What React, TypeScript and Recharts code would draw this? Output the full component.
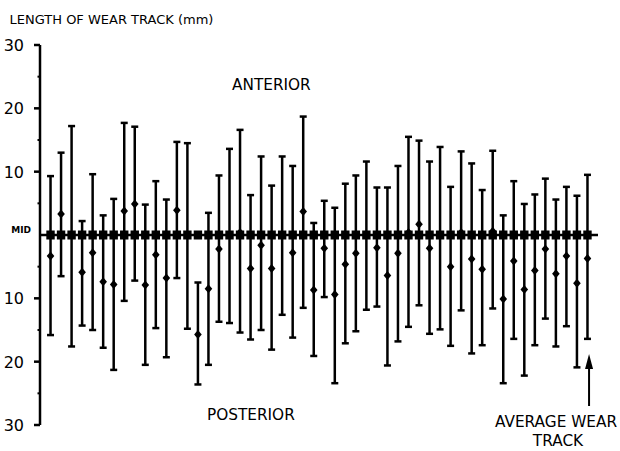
import React from "react";
import {
  ComposedChart,
  Scatter,
  ErrorBar,
  XAxis,
  YAxis,
  ReferenceLine,
} from "recharts";

// wear track per specimen, mm (anterior +, posterior -)
const trackTops = [
  9.3, 13.0, 17.2, 2.2, 9.6, 3.1, 5.7, 17.7, 17.1, 4.8,
  8.5, 5.6, 14.7, 14.5, -7.5, 3.5, 9.4, 13.6, 16.6, 6.3, 12.4,
  7.8, 12.4, 10.9, 18.7, 1.9, 5.4, 4.3, 8.1, 9.4, 11.6,
  7.5, 7.5, 10.9, 15.5, 14.9, 11.6, 13.9, 7.6, 13.2, 11.3,
  7.1, 13.3, 3.1, 8.5, 4.9, 6.4, 8.9, 5.6, 7.6, 6.2, 9.5,
];
const trackMids = [
  -3.3, 3.3, 0, -5.9, -2.8, -7.4, -7.8, 3.8, 4.9, -7.9,
  -3.1, -6.8, 3.9, 0, -15.7, -8.5, -2.2, 0, 0.4, -5.3, -1.6,
  -5.3, 0, -2.8, 3.7, -8.7, -2.1, -9.4, -4.6, -2.9, 0,
  -2.0, -6.4, -2.9, 0.4, 1.7, -2.1, 0, -5.0, 0.4, -3.8,
  -5.4, 0.6, -10.1, -4.1, -8.6, -5.6, -2.2, -6.1, -3.3, -7.6, -3.7,
];
const trackBottoms = [
  -15.8, -6.5, -17.6, -14.3, -15.0, -17.8, -21.3, -10.4, -7.2, -20.5,
  -14.7, -19.3, -6.8, -14.8, -23.6, -20.5, -13.7, -13.9, -15.4, -16.5, -15.0,
  -18.1, -12.6, -16.2, -11.5, -19.1, -9.8, -23.4, -17.1, -15.2, -11.8,
  -11.3, -20.6, -16.8, -14.5, -11.1, -15.6, -14.9, -17.5, -11.9, -18.7,
  -17.4, -11.6, -23.4, -16.4, -22.2, -17.4, -13.2, -17.6, -14.4, -20.9, -16.4,
];
const yTicks = [-30, -25, -20, -15, -10, -5, 0, 5, 10, 15, 20, 25, 30];

const FONT = "'DejaVu Sans', sans-serif";

const tracks = trackMids.map((m, i) => ({
  i,
  v: m,
  err: [m - trackBottoms[i], trackTops[i] - m],
}));
const centres = trackMids.map((_, i) => ({ i, v: 0 }));

const Diamond = (props: any) => {
  const { cx, cy } = props;
  if (cx == null || cy == null) return null;
  return (
    <polygon
      points={`${cx},${cy - 4.5} ${cx + 3.8},${cy} ${cx},${cy + 4.5} ${cx - 3.8},${cy}`}
      fill="#000"
    />
  );
};

const Square = (props: any) => {
  const { cx, cy } = props;
  if (cx == null || cy == null) return null;
  return <rect x={cx - 4.2} y={cy - 4.5} width={8.4} height={9} fill="#000" />;
};

const AxisTick = (props: any) => {
  const { x, y, payload } = props;
  const v = payload.value as number;
  const major = v % 10 === 0;
  if (!major) {
    return <line x1={x - 2.5} x2={x} y1={y} y2={y} stroke="#000" strokeWidth={2} />;
  }
  if (v === 0) {
    return (
      <text x={x - 9} y={y - 2.5} textAnchor="end" fontFamily={FONT} fontSize={9} fontWeight="bold" fill="#000">
        MID
      </text>
    );
  }
  return (
    <g>
      <line x1={x - 6} x2={x} y1={y} y2={y} stroke="#000" strokeWidth={2.5} />
      <text x={x - 16} y={y + 6} textAnchor="end" fontFamily={FONT} fontSize={16} fill="#000">
        {Math.abs(v)}
      </text>
    </g>
  );
};

const Arrow = (props: any) => {
  const { x1, y1, x2, y2 } = props;
  const top = Math.min(y1, y2);
  const bottom = Math.max(y1, y2);
  return (
    <g>
      <line x1={x1} x2={x2} y1={bottom} y2={top + 10} stroke="#000" strokeWidth={2} />
      <polygon points={`${x1},${top} ${x1 + 4},${top + 15} ${x1 - 4},${top + 15}`} fill="#000" />
    </g>
  );
};

export default function App() {
  return (
    <div style={{ position: "absolute", left: 0, top: 0, width: 620, height: 451, background: "#fff" }}>
      <ComposedChart
        width={620}
        height={451}
        margin={{ top: 45, right: 22, bottom: 26, left: 0 }}
      >
        <XAxis type="number" dataKey="i" domain={[-1, 52]} hide />
        <YAxis
          type="number"
          dataKey="v"
          domain={[-30, 30]}
          allowDataOverflow
          ticks={yTicks}
          interval={0}
          width={40}
          tickSize={0}
          tickMargin={0}
          tickLine={false}
          tick={<AxisTick />}
          axisLine={{ stroke: "#000", strokeWidth: 2.5 }}
        />
        <ReferenceLine y={0} stroke="#000" strokeWidth={2.5} />
        <Scatter data={tracks} shape={<Diamond />} isAnimationActive={false}>
          <ErrorBar
            dataKey="err"
            direction="y"
            width={3.5}
            stroke="#000"
            strokeWidth={2.5}
            isAnimationActive={false}
          />
        </Scatter>
        <Scatter data={centres} shape={<Square />} isAnimationActive={false} />
        <ReferenceLine
          segment={[
            { x: 51.15, y: -27 },
            { x: 51.15, y: -18.8 },
          ]}
          shape={<Arrow />}
        />
      </ComposedChart>
      <svg
        width={620}
        height={451}
        style={{ position: "absolute", left: 0, top: 0, pointerEvents: "none" }}
      >
        <g fontFamily={FONT} fill="#000">
          <text x={9.5} y={24} fontSize={13}>LENGTH OF WEAR TRACK (mm)</text>
          <text x={232} y={90} fontSize={15.3}>ANTERIOR</text>
          <text x={207} y={420} fontSize={15.3}>POSTERIOR</text>
          <text x={556} y={427} fontSize={15.3} textAnchor="middle">AVERAGE WEAR</text>
          <text x={558} y={446} fontSize={15.3} textAnchor="middle">TRACK</text>
        </g>
      </svg>
    </div>
  );
}
